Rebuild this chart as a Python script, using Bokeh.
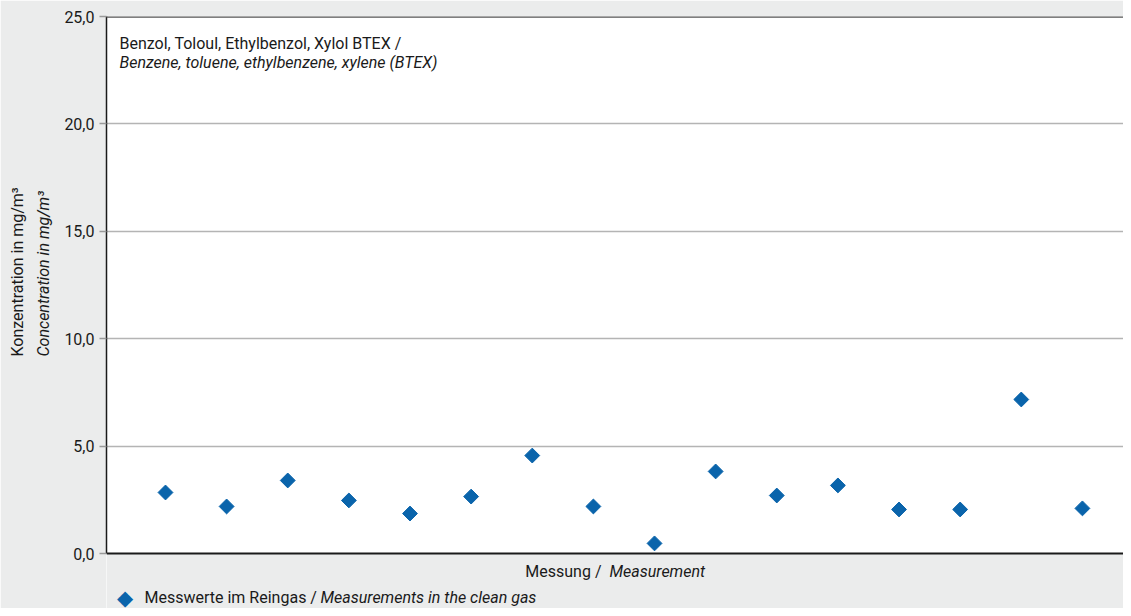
from bokeh.plotting import figure
from bokeh.models import Range1d, Label, Span, FixedTicker, BoxAnnotation, Title
from bokeh.embed import file_html
from bokeh.resources import INLINE
import math

# data
measurements = list(range(1, 17))
values = [2.84, 2.19, 3.40, 2.47, 1.86, 2.65, 4.56, 2.19, 0.47, 3.82, 2.70, 3.17, 2.05, 2.05, 7.17, 2.10]
y_ticks = [0, 5, 10, 15, 20, 25]
y_tick_labels = ["0,0", "5,0", "10,0", "15,0", "20,0", "25,0"]

FONT = "Roboto"
BG = "#ebecec"
BLUE = "#0a64ab"
TXT = "#1a1a1a"

# frame spans the plot area plus the strip below it (for axis title and legend)
p = figure(width=1123, height=608, output_backend="svg", toolbar_location=None,
           x_axis_location=None,
           x_range=Range1d(0.035, 16.672), y_range=Range1d(-2.5605, 25),
           min_border_left=106, min_border_right=0, min_border_top=16, min_border_bottom=0)
p.border_fill_color = BG
p.background_fill_color = "white"
p.outline_line_color = None

# grey strip below the zero line
p.add_layout(BoxAnnotation(top=0, fill_color=BG, fill_alpha=1, line_color=None, level="underlay"))

p.scatter(measurements, values, marker="square", size=10.5, angle=math.pi / 4,
          fill_color=BLUE, line_color=BLUE)

# y axis
p.yaxis.bounds = (0, 25)
p.yaxis.ticker = FixedTicker(ticks=y_ticks)
p.yaxis.major_label_overrides = {t: l for t, l in zip(y_ticks, y_tick_labels)}
p.yaxis.major_label_text_font = FONT
p.yaxis.major_label_text_font_size = "16px"
p.yaxis.major_label_text_color = TXT
p.yaxis.axis_line_color = TXT
p.yaxis.axis_line_width = 1.5
p.yaxis.major_tick_line_color = "#999999"
p.yaxis.major_tick_line_width = 1.5
p.yaxis.major_tick_out = 7
p.yaxis.major_tick_in = 0
p.yaxis.minor_tick_line_color = None
p.yaxis.major_label_standoff = 5

p.xgrid.grid_line_color = None
p.ygrid.ticker = FixedTicker(ticks=y_ticks[1:])
p.ygrid.grid_line_color = "#b4b4b4"
p.ygrid.grid_line_width = 1.5

p.add_layout(Span(location=0, dimension="width", line_color=TXT, line_width=2))
p.add_layout(Span(location=25, dimension="width", line_color="#555555", line_width=2.5))

# y axis title (two lines, second italic)
p.add_layout(Title(text="Concentration in mg/m³", text_font=FONT, text_font_size="16px",
                   text_font_style="italic", text_color=TXT, align="left",
                   offset=252, standoff=17), "left")
p.add_layout(Title(text="Konzentration in mg/m³", text_font=FONT, text_font_size="16px",
                   text_font_style="normal", text_color=TXT, align="left",
                   offset=252, standoff=-6), "left")

def lab(x, y, text, style="normal", align="left", size="16px", color=TXT, font=FONT):
    p.add_layout(Label(x=x, y=y, x_units="screen", y_units="screen", text=text,
                       text_font=font, text_font_size=size,
                       text_font_style=style, text_align=align, text_baseline="middle",
                       text_color=color))

# chart title inside plot area
lab(13, 565, "Benzol, Toloul, Ethylbenzol, Xylol BTEX /")
lab(13, 546, "Benzene, toluene, ethylbenzene, xylene (BTEX)", style="italic")

# x axis title
lab(495, 37, "Messung /", align="right")
lab(503, 37, "Measurement", style="italic")

# legend
lab(18.5, 11, "◆", align="center", size="21px", color=BLUE, font="DejaVu Sans")
lab(38, 11, "Messwerte im Reingas /")
lab(214, 11, "Measurements in the clean gas", style="italic")

open("out.html", "w").write(file_html(p, INLINE))
